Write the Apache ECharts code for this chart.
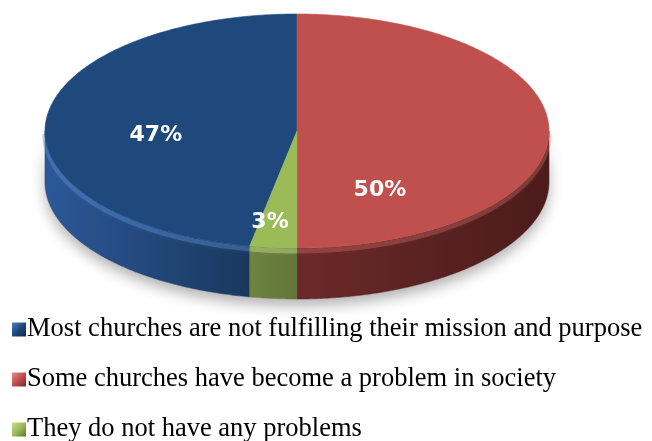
<!DOCTYPE html>
<html>
<head>
<meta charset="utf-8">
<script src="https://cdn.jsdelivr.net/npm/echarts@6/dist/echarts.min.js"></script>
<style>
  html, body { margin: 0; padding: 0; background: #ffffff; }
  #chart { width: 652px; height: 441px; }
</style>
</head>
<body>
<div id="chart"></div>
<script>
// Survey answers and their shares (percent)
const categories = [
  'Most churches are not fulfilling their mission and purpose',
  'Some churches have become a problem in society',
  'They do not have any problems'
];
const shares = [47, 50, 3];
const shareLabels = ['47%', '50%', '3%'];

// Slices are laid round the disc counter-clockwise from 12 o'clock in this order
const sliceOrder = [0, 2, 1];

// ---- layout and styling of the tilted disc ----
const disc = { cx: 297, cy: 131, rx: 252, ry: 117, depth: 51 };
const topColors = ['#1F497D', '#C0504D', '#9BBB59'];
const sideColors = [
  ['#2c5898', '#1a385f'],
  ['#6a2a29', '#4c1b1b'],
  ['#6e8440', '#62763a']
];
const rimColors = ['rgba(90,140,205,0.4)', 'rgba(225,120,115,0.3)', 'rgba(200,225,140,0.4)'];
// label anchor as fractions of the radii, measured from the disc centre
const labelAnchors = [[-0.56, 0.034], [0.329, 0.509], [-0.107, 0.778]];

// start/end angles (degrees, counter-clockwise from 12 o'clock) for each category
const total = shares.reduce((a, b) => a + b, 0);
const sliceAngles = [];
(function () {
  let acc = 0;
  sliceOrder.forEach(function (idx) {
    const sweep = shares[idx] / total * 360;
    sliceAngles[idx] = [acc, acc + sweep];
    acc += sweep;
  });
})();

function pt(deg, drop) {
  const r = deg * Math.PI / 180;
  return [disc.cx - disc.rx * Math.sin(r), disc.cy - disc.ry * Math.cos(r) + (drop || 0)];
}
function arc(a, b, drop) {
  const pts = [];
  const n = Math.max(2, Math.ceil(Math.abs(b - a) / 0.5));
  for (let i = 0; i <= n; i++) pts.push(pt(a + (b - a) * i / n, drop));
  return pts;
}

function makeRender(idx) {
  return function (params, api) {
    const share = api.value(0);
    const ang = sliceAngles[idx];
    const a = ang[0], b = ang[0] + share / total * 360;
    const children = [];

    // shadow under the whole disc, drawn once with the first category
    if (idx === 0) {
      const band = arc(90, 270, 0).concat(arc(270, 90, disc.depth));
      children.push({
        type: 'polygon', z2: 0, silent: true,
        shape: { points: band },
        style: { fill: '#ffffff', shadowColor: 'rgba(0,0,0,0.3)', shadowBlur: 14, shadowOffsetY: 7 }
      });
    }

    // visible side wall: the front half of the disc (90..270 deg)
    const s0 = Math.max(a, 90), s1 = Math.min(b, 270);
    if (s1 > s0) {
      const wall = arc(s0, s1, 0).concat(arc(s1, s0, disc.depth));
      children.push({
        type: 'polygon', z2: 2, silent: true,
        shape: { points: wall },
        style: {
          fill: new echarts.graphic.LinearGradient(0, 0, 1, 0, [
            { offset: 0, color: sideColors[idx][0] },
            { offset: 1, color: sideColors[idx][1] }
          ]),
          stroke: sideColors[idx][1], lineWidth: 0.5
        }
      });
      // soft highlight where the wall meets the top face
      children.push({
        type: 'polyline', z2: 3, silent: true,
        shape: { points: arc(s0, s1, 3) },
        style: { stroke: rimColors[idx], lineWidth: 5, fill: null, shadowColor: rimColors[idx], shadowBlur: 4 }
      });
    }

    // top face
    const face = [[disc.cx, disc.cy]].concat(arc(a, b, 0));
    children.push({
      type: 'polygon', z2: 10,
      shape: { points: face },
      style: { fill: topColors[idx], stroke: topColors[idx], lineWidth: 0.6 }
    });

    // value label
    const la = labelAnchors[idx];
    children.push({
      type: 'text', z2: 20, silent: true,
      x: disc.cx + la[0] * disc.rx,
      y: disc.cy + la[1] * disc.ry,
      style: {
        text: shareLabels[idx],
        fill: '#ffffff',
        font: 'bold 22px "DejaVu Sans", sans-serif',
        align: 'center',
        verticalAlign: 'middle'
      }
    });

    return { type: 'group', children: children };
  };
}

function bevel(light, mid, dark) {
  return new echarts.graphic.LinearGradient(0, 0, 1, 1, [
    { offset: 0, color: light },
    { offset: 0.5, color: mid },
    { offset: 1, color: dark }
  ]);
}
const legendIcons = [
  bevel('#4f7fc0', '#1F497D', '#10284a'),
  bevel('#e48a86', '#C0504D', '#7a2a28'),
  bevel('#c8e08e', '#9BBB59', '#5d7430')
];

const chart = echarts.init(document.getElementById('chart'), null, { renderer: 'canvas' });
chart.setOption({
  animation: false,
  backgroundColor: '#ffffff',
  legend: {
    orient: 'vertical',
    left: 7,
    top: 311,
    height: 130,
    padding: 5,
    itemWidth: 14,
    itemHeight: 14,
    itemGap: 23,
    icon: 'rect',
    textStyle: {
      fontFamily: '"Liberation Serif", "Times New Roman", serif',
      fontSize: 26.5,
      lineHeight: 26,
      color: '#000000',
      padding: [0, 0, 0, -4]
    },
    data: categories.map(function (name, i) {
      return { name: name, itemStyle: { color: legendIcons[i] } };
    })
  },
  series: categories.map(function (name, i) {
    return {
      type: 'custom',
      name: name,
      coordinateSystem: 'none',
      color: topColors[i],
      renderItem: makeRender(i),
      data: [[shares[i]]]
    };
  })
});
</script>
</body>
</html>
